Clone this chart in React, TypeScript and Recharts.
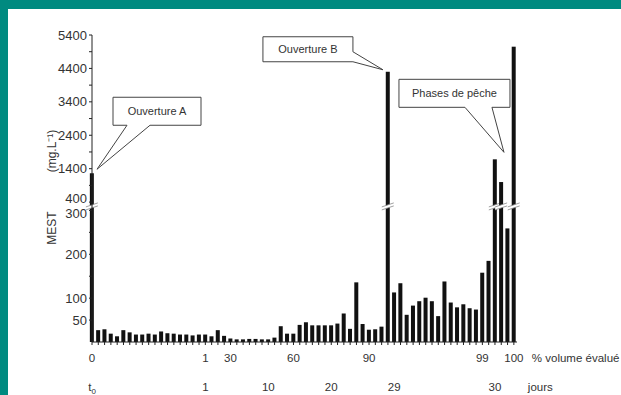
import React from "react";
import { BarChart, Bar, XAxis, YAxis, ReferenceDot } from "recharts";

// MEST (mg/L) for each sample, left to right
const mest = [
  1263, 27, 29, 19, 13, 27, 22, 17, 17, 19, 17,
  24, 20, 19, 17, 17, 15, 17, 17, 13, 27,
  14, 8, 6, 6, 7, 7, 6, 6, 10, 36,
  19, 19, 39, 45, 38, 38, 38, 38, 42, 65,
  30, 136, 41, 28, 29, 35, 4300, 113, 134, 62,
  83, 93, 101, 93, 59, 138, 90, 79, 86, 77,
  74, 158, 185, 1680, 1000, 259, 5050,
];

// bottom labels (sample index -> text)
const volumeAt = [0, 18, 22, 32, 44, 62, 67];
const volumeText = ["0", "1", "30", "60", "90", "99", "100"];
const dayAt = [0, 18, 28, 38, 48, 64];
const dayText = ["t0", "1", "10", "20", "29", "30"];

const yTicks = [50, 100, 150, 200, 250, 300, 400, 900, 1400, 1900, 2400, 2900, 3400, 3900, 4400, 4900, 5400];
const yLabelled = [50, 100, 200, 300, 400, 1400, 2400, 3400, 4400, 5400];

// broken axis: linear up to 300, compressed above 400
const LOW_MAX = 300;
const HIGH_START = 400;
const HIGH_BASE = 319;
const HIGH_K = 0.0762;
const BREAK = 308;
const toDisplay = (v: number) => (v <= LOW_MAX ? v : HIGH_BASE + (v - HIGH_START) * HIGH_K);

const data = mest.map((v, i) => ({ i, v, d: toDisplay(v) }));

const FONT = "'Liberation Sans', Arial, sans-serif";

function Slash({ cx, cy }: { cx: number; cy: number }) {
  return (
    <g>
      <polygon
        points={`${cx - 6},${cy + 3} ${cx + 6},${cy - 1} ${cx + 6},${cy - 4} ${cx - 6},${cy}`}
        fill="#fff"
      />
      <line x1={cx - 6} y1={cy + 3} x2={cx + 6} y2={cy - 1} stroke="#888" strokeWidth={0.8} />
      <line x1={cx - 6} y1={cy} x2={cx + 6} y2={cy - 4} stroke="#888" strokeWidth={0.8} />
    </g>
  );
}

function BreakBar(props: any) {
  const { x, y, width, height, payload } = props;
  if (!height) return null;
  const base = y + height;
  const ratio = height / payload.d;
  const by = base - BREAK * ratio;
  return (
    <g>
      <rect x={x} y={y} width={width} height={height} fill="#111" />
      {payload.v > LOW_MAX && <Slash cx={x + width / 2} cy={by} />}
    </g>
  );
}

function XTick(props: any) {
  const { x, y, payload } = props;
  const i = payload.value;
  const a = volumeAt.indexOf(i);
  const b = dayAt.indexOf(i);
  return (
    <g fontSize={11.5} fill="#333" fontFamily={FONT}>
      {a >= 0 && (
        <text x={x} y={y + 15} textAnchor="middle">
          {volumeText[a]}
        </text>
      )}
      {b === 0 && (
        <text x={x} y={y + 44} textAnchor="middle">
          t<tspan fontSize={8} dy={3}>0</tspan>
        </text>
      )}
      {b > 0 && (
        <text x={x} y={y + 44} textAnchor="middle">
          {dayText[b]}
        </text>
      )}
      {i === mest.length - 1 && (
        <>
          <text x={x + 18} y={y + 15}>% volume évalué</text>
          <text x={x + 14} y={y + 44}>jours</text>
        </>
      )}
    </g>
  );
}

function YTick(props: any) {
  const { x, y, payload } = props;
  const k = yTicks.findIndex((t) => Math.abs(toDisplay(t) - payload.value) < 1e-6);
  const v = yTicks[k];
  if (k < 0 || !yLabelled.includes(v)) return null;
  // pull the two labels either side of the break apart a little
  const nudge = v === HIGH_START ? -3.5 : v === LOW_MAX ? 3.5 : 0;
  return (
    <text x={x} y={y + nudge + 4.5} textAnchor="end" fontSize={13} fill="#333" fontFamily={FONT}>
      {v}
    </text>
  );
}

type CalloutSpec = {
  apex: [number, number];
  box: [number, number, number, number];
  side: "bottom" | "right";
  base: [number, number];
  text: string;
};

const calloutA: CalloutSpec = { apex: [5, -4], box: [21, -76, 88, 28], side: "bottom", base: [35, 58], text: "Ouverture A" };
const calloutB: CalloutSpec = { apex: [-5, -2], box: [-125, -35, 90, 25], side: "right", base: [-20, -10], text: "Ouverture B" };
const calloutC: CalloutSpec = { apex: [9, -7], box: [-96, -80, 111, 28], side: "bottom", base: [-30, -3], text: "Phases de pêche" };

function Callout({ cx, cy, spec }: { cx: number; cy: number; spec: CalloutSpec }) {
  const [bx, by, w, h] = [cx + spec.box[0], cy + spec.box[1], spec.box[2], spec.box[3]];
  const ax = cx + spec.apex[0];
  const ay = cy + spec.apex[1];
  let path: string;
  if (spec.side === "bottom") {
    const p1 = cx + spec.base[0];
    const p2 = cx + spec.base[1];
    path = `M${bx},${by} H${bx + w} V${by + h} H${p2} L${ax},${ay} L${p1},${by + h} H${bx} Z`;
  } else {
    const q1 = cy + spec.base[0];
    const q2 = cy + spec.base[1];
    path = `M${bx},${by} H${bx + w} V${q1} L${ax},${ay} L${bx + w},${q2} V${by + h} H${bx} Z`;
  }
  return (
    <g>
      <path d={path} fill="#fff" stroke="#444" strokeWidth={1} />
      <text x={bx + w / 2} y={by + h / 2 + 4} textAnchor="middle" fontSize={11} fill="#333" fontFamily={FONT}>
        {spec.text}
      </text>
    </g>
  );
}

export default function App() {
  return (
    <div style={{ position: "absolute", left: 0, top: 0, width: 621, height: 395, background: "#008a80" }}>
      <div style={{ position: "absolute", left: 8, top: 9, width: 613, height: 386, background: "#fff" }} />
      <div style={{ position: "absolute", left: 0, top: 0 }}>
        <BarChart
          width={621}
          height={395}
          data={data}
          margin={{ top: 35, right: 104, bottom: 0, left: 0 }}
          style={{ fontFamily: FONT }}
        >
          <XAxis
            type="number"
            dataKey="i"
            domain={[0, 67.5]}
            ticks={data.map((r) => r.i)}
            interval={0}
            tick={<XTick />}
            tickSize={3}
            height={53}
            axisLine={{ stroke: "#222" }}
            tickLine={{ stroke: "#222" }}
          />
          <YAxis
            type="number"
            domain={[0, 700]}
            ticks={yTicks.map(toDisplay)}
            interval={0}
            width={92}
            tickSize={3}
            tick={<YTick />}
            axisLine={{ stroke: "#222" }}
            tickLine={{ stroke: "#222" }}
          />
          <Bar dataKey="d" barSize={4} shape={<BreakBar />} isAnimationActive={false} />
          <ReferenceDot x={0} y={data[0].d} r={0} shape={(p: any) => <Callout cx={p.cx} cy={p.cy} spec={calloutA} />} />
          <ReferenceDot x={47} y={data[47].d} r={0} shape={(p: any) => <Callout cx={p.cx} cy={p.cy} spec={calloutB} />} />
          <ReferenceDot x={64} y={data[64].d} r={0} shape={(p: any) => <Callout cx={p.cx} cy={p.cy} spec={calloutC} />} />
        </BarChart>
      </div>
      <svg width={621} height={395} style={{ position: "absolute", left: 0, top: 0, pointerEvents: "none" }}>
        <text transform="translate(56,228) rotate(-90)" textAnchor="middle" fontSize={12} fill="#333" fontFamily={FONT}>
          MEST
        </text>
        <text transform="translate(56,151) rotate(-90)" textAnchor="middle" fontSize={12} fill="#333" fontFamily={FONT}>
          (mg.L⁻¹)
        </text>
      </svg>
    </div>
  );
}
